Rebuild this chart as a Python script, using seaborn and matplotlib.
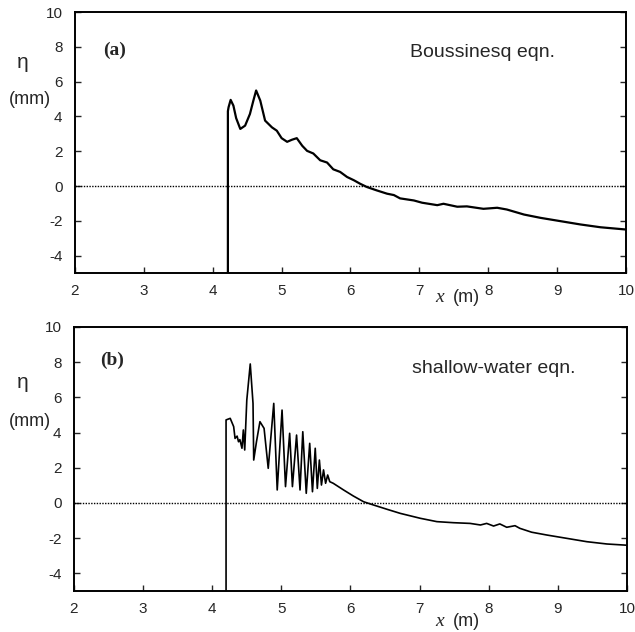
import matplotlib
matplotlib.use("Agg")
import matplotlib.pyplot as plt
import seaborn as sns

# ---- data ----
# (a) Boussinesq
x_bous = [4.22, 4.22, 4.23, 4.26, 4.30, 4.34, 4.40, 4.47, 4.54, 4.59, 4.63, 4.69, 4.76,
          4.86, 4.93, 5.00, 5.08, 5.15, 5.22, 5.30, 5.37, 5.46, 5.56, 5.66, 5.75,
          5.85, 5.95, 6.05, 6.14, 6.24, 6.38, 6.53, 6.63, 6.72, 6.92, 7.04, 7.26,
          7.35, 7.55, 7.69, 7.93, 8.13, 8.27, 8.52, 8.76, 9.05, 9.34, 9.63, 10.0]
eta_bous = [-5.2, 4.3, 4.53, 4.95, 4.62, 3.9, 3.28, 3.47, 4.14, 4.91, 5.49, 4.91, 3.76,
            3.37, 3.18, 2.75, 2.54, 2.66, 2.75, 2.31, 2.02, 1.87, 1.48, 1.35, 0.96,
            0.81, 0.52, 0.33, 0.13, -0.06, -0.25, -0.44, -0.52, -0.71, -0.83, -0.96, -1.10,
            -1.02, -1.19, -1.17, -1.31, -1.25, -1.35, -1.64, -1.83, -2.02, -2.21, -2.37, -2.50]

# (b) shallow-water
x_sw = [4.20, 4.20, 4.26, 4.31, 4.33, 4.36, 4.38, 4.40, 4.43, 4.45, 4.47, 4.50, 4.55,
        4.59, 4.60, 4.64, 4.69, 4.75, 4.81, 4.89, 4.94, 5.01, 5.06, 5.12, 5.16,
        5.22, 5.27, 5.31, 5.36, 5.41, 5.45, 5.49, 5.52, 5.55, 5.58, 5.61, 5.64,
        5.67, 5.70, 5.75, 5.90, 6.04, 6.19, 6.33, 6.53, 6.72, 7.01, 7.25, 7.49,
        7.73, 7.88, 7.97, 8.07, 8.16, 8.26, 8.38, 8.45, 8.62, 8.84, 9.13, 9.42,
        9.71, 10.0]
eta_sw = [-5.2, 4.72, 4.81, 4.34, 3.67, 3.8, 3.48, 3.6, 3.11, 4.15, 3.01, 5.85, 7.9,
          5.66, 2.44, 3.48, 4.62, 4.24, 1.97, 5.66, 0.74, 5.28, 0.93, 3.96, 0.93,
          3.86, 0.74, 4.05, 0.55, 3.39, 0.64, 3.11, 0.83, 2.44, 1.02, 1.88, 1.12,
          1.59, 1.21, 1.12, 0.74, 0.40, 0.07, -0.11, -0.36, -0.59, -0.87, -1.06, -1.12,
          -1.16, -1.25, -1.16, -1.31, -1.19, -1.38, -1.29, -1.44, -1.66, -1.82, -2.01, -2.20,
          -2.33, -2.40]

x_ticks = [2, 3, 4, 5, 6, 7, 8, 9, 10]
y_ticks = [-4, -2, 0, 2, 4, 6, 8, 10]

sns.set_style("ticks")
plt.rcParams['font.family'] = ['Liberation Sans', 'DejaVu Sans']
plt.rcParams['axes.unicode_minus'] = False  # plain hyphen like the original

fig = plt.figure(figsize=(6.35, 6.32), dpi=100)
ax_a = fig.add_axes([0.1181, 0.5680, 0.8677, 0.4130])
ax_b = fig.add_axes([0.1165, 0.0649, 0.8709, 0.4177])

panels = [
    (ax_a, x_bous, eta_bous, "(a)", "Boussinesq eqn.", 1.6, (2.41, 7.8), (6.87, 7.7), 297, 62, 100),
    (ax_b, x_sw, eta_sw, "(b)", "shallow-water eqn.", 1.2, (2.38, 8.1), (6.89, 7.67), 622, 383, 422),
]

for ax, xs, ys, tag, name, lw, tag_pos, name_pos, xl_y, eta_y, mm_y in panels:
    sns.lineplot(x=xs, y=ys, estimator=None, sort=False, color="black", lw=lw, ax=ax)
    ax.axhline(0, color="black", lw=1.0, ls=(0, (1, 1)))
    ax.set_xlim(2, 10)
    ax.set_ylim(-5, 10)
    ax.set_xticks(x_ticks)
    ax.set_yticks(y_ticks)
    ax.tick_params(direction="in", length=4, width=1.0, labelsize=11,
                   right=True, labelright=False)
    ax.tick_params(axis="y", pad=9)
    ax.tick_params(axis="x", pad=8)
    for sp in ax.spines.values():
        sp.set_linewidth(1.4)
        sp.set_color("black")
    ax.text(tag_pos[0], tag_pos[1], tag, family="Liberation Serif", weight="bold",
            fontsize=14, va="center", ha="left")
    ax.text(name_pos[0], name_pos[1], name, fontsize=14, va="center", ha="left")
    # axis labels placed as in the original figure
    fig.text(440 / 635, 1 - xl_y / 632, "x", family="Liberation Serif", style="italic",
             fontsize=14, ha="center", va="center")
    fig.text(466 / 635, 1 - xl_y / 632, "(m)", fontsize=13, ha="center", va="center")
    fig.text(23 / 635, 1 - eta_y / 632, "η", fontsize=15, ha="center", va="center")
    fig.text(30 / 635, 1 - mm_y / 632, "(mm)", fontsize=13, ha="center", va="center")
    ax.set_xlabel("")
    ax.set_ylabel("")

fig.savefig("out.png", dpi=100)
